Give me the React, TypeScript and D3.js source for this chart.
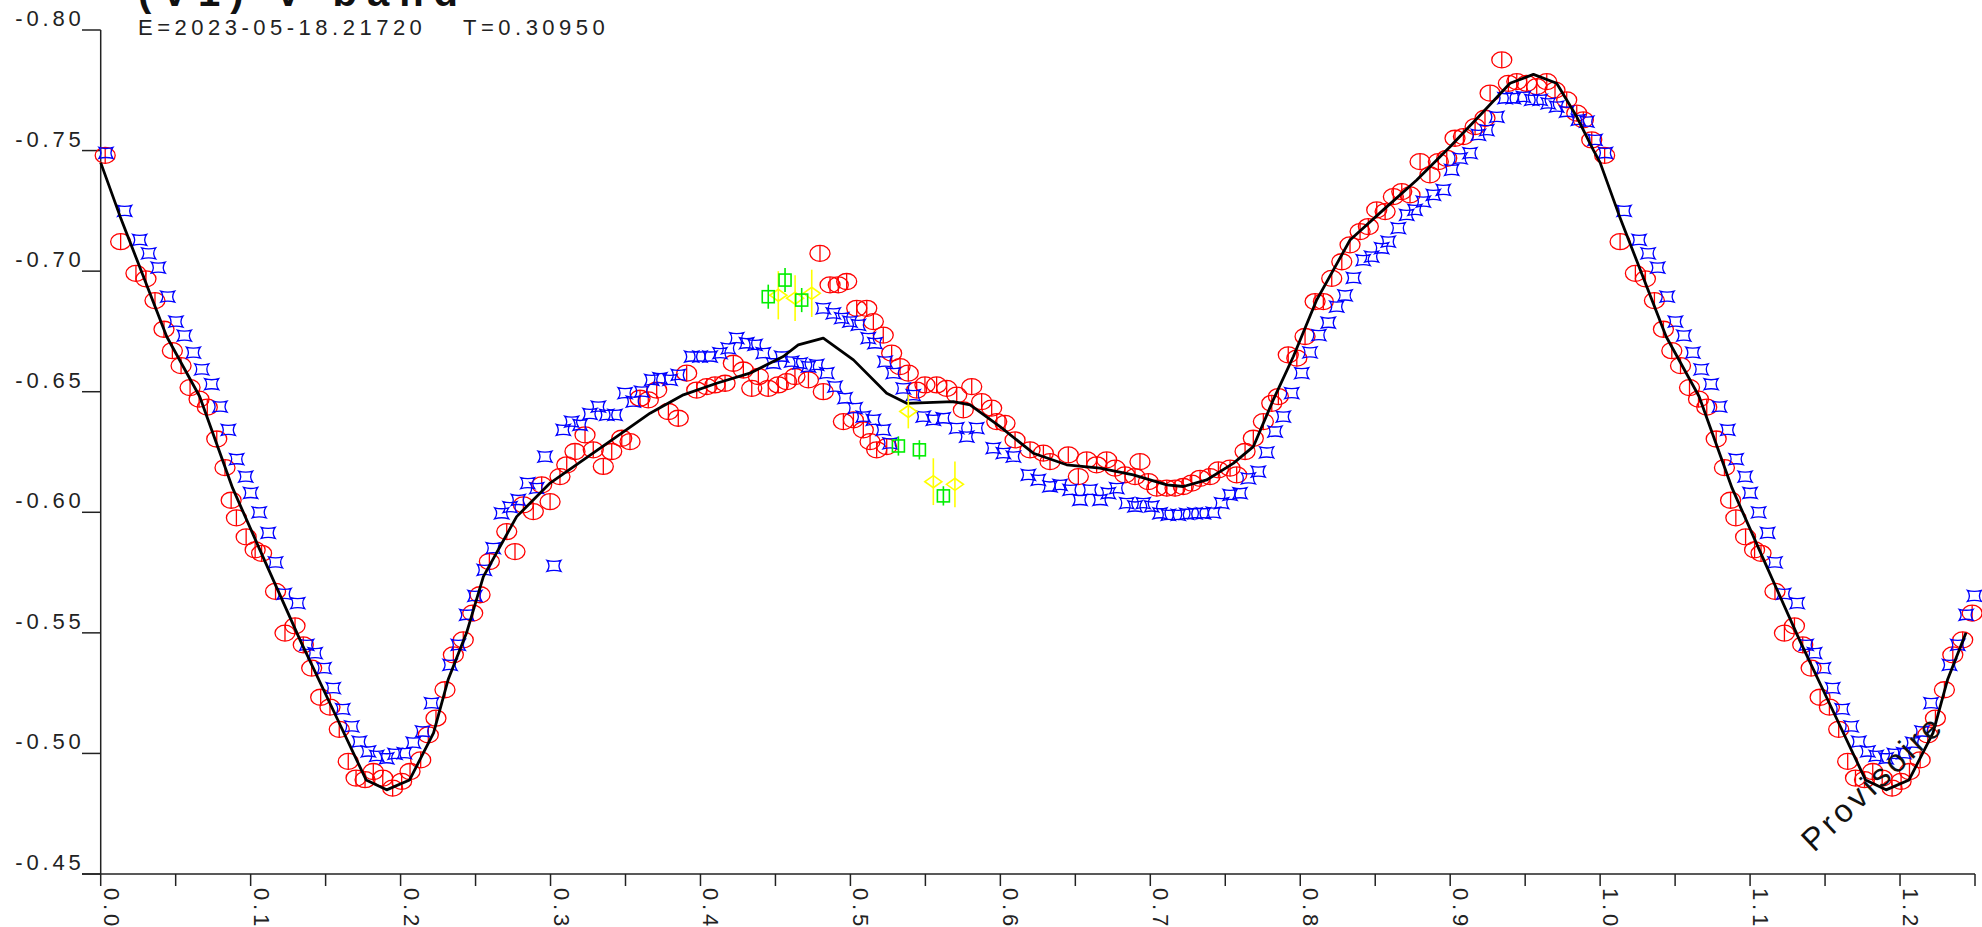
import React from 'react';
import * as d3 from 'd3';

// phase-folded light curve, phase 0..1 (repeated to 1.25 when drawn)
const redSeries: [number, number][] = [
  [0.003, -0.748], [0.0133, -0.7122], [0.0235, -0.6991], [0.0302, -0.6968], [0.0362, -0.6878],
  [0.0422, -0.6759], [0.0478, -0.667], [0.0536, -0.6608], [0.0596, -0.6517], [0.0656, -0.6469],
  [0.0711, -0.6436], [0.0774, -0.6304], [0.0829, -0.6185], [0.087, -0.605], [0.0905, -0.5977],
  [0.097, -0.5898], [0.103, -0.5844], [0.1073, -0.583], [0.1166, -0.5672], [0.1229, -0.5499],
  [0.1296, -0.5529], [0.1351, -0.545], [0.1407, -0.5354], [0.1467, -0.5233], [0.1529, -0.5192],
  [0.1591, -0.51], [0.1651, -0.4967], [0.1703, -0.4898], [0.1763, -0.4891], [0.1818, -0.4925],
  [0.1881, -0.4898], [0.1947, -0.4856], [0.2007, -0.4884], [0.2063, -0.4925], [0.2134, -0.4973],
  [0.2185, -0.5077], [0.2236, -0.5146], [0.2296, -0.5264], [0.2352, -0.5409], [0.2418, -0.5471],
  [0.2481, -0.5582], [0.253, -0.5658], [0.2592, -0.5796], [0.2708, -0.592], [0.2763, -0.5837],
  [0.2819, -0.6031], [0.2885, -0.6003], [0.2941, -0.6114], [0.2997, -0.6044], [0.3063, -0.6148],
  [0.3108, -0.6197], [0.3163, -0.6252], [0.323, -0.6321], [0.3285, -0.6259], [0.3352, -0.619],
  [0.3408, -0.6252], [0.3475, -0.6307], [0.353, -0.6293], [0.3597, -0.6473], [0.3652, -0.6466],
  [0.3708, -0.6507], [0.3786, -0.6418], [0.3852, -0.639], [0.3908, -0.6577], [0.3975, -0.6507],
  [0.4042, -0.6521], [0.4097, -0.6528], [0.4164, -0.6535], [0.4219, -0.6618], [0.4286, -0.659],
  [0.4342, -0.6514], [0.4386, -0.6563], [0.4452, -0.6514], [0.4519, -0.6528], [0.4575, -0.6542],
  [0.463, -0.6563], [0.472, -0.6549], [0.4797, -0.7074], [0.4819, -0.65], [0.4864, -0.6943],
  [0.4919, -0.6943], [0.4953, -0.6376], [0.4975, -0.6957], [0.502, -0.6383], [0.5042, -0.6846],
  [0.5086, -0.6342], [0.5109, -0.6846], [0.5131, -0.6293], [0.5153, -0.6791], [0.5175, -0.6259],
  [0.5219, -0.6735], [0.5242, -0.6272], [0.5275, -0.666], [0.5331, -0.6604], [0.5386, -0.6577],
  [0.5442, -0.6507], [0.5497, -0.6528], [0.5575, -0.6528], [0.5642, -0.6514], [0.5709, -0.6486],
  [0.5753, -0.6425], [0.5809, -0.6521], [0.5875, -0.6459], [0.5942, -0.6432], [0.5976, -0.6376],
  [0.6031, -0.6369], [0.6098, -0.63], [0.6198, -0.6259], [0.6287, -0.6245], [0.6331, -0.621],
  [0.6453, -0.6238], [0.652, -0.6148], [0.6576, -0.6217], [0.6642, -0.6197], [0.6709, -0.6217],
  [0.6765, -0.6183], [0.6831, -0.6155], [0.6898, -0.6148], [0.6931, -0.621], [0.6987, -0.6127],
  [0.7043, -0.61], [0.711, -0.61], [0.7165, -0.61], [0.722, -0.6107], [0.7276, -0.6121],
  [0.7332, -0.6141], [0.7398, -0.6148], [0.7454, -0.6176], [0.7532, -0.6183], [0.7576, -0.6155],
  [0.7632, -0.6252], [0.7687, -0.6307], [0.7754, -0.6376], [0.781, -0.6452], [0.7854, -0.648],
  [0.792, -0.6653], [0.7977, -0.6639], [0.8032, -0.6729], [0.8099, -0.6874], [0.8154, -0.6874],
  [0.821, -0.697], [0.8277, -0.7039], [0.8332, -0.7109], [0.8399, -0.7164], [0.8454, -0.7185],
  [0.851, -0.7254], [0.8566, -0.7247], [0.8621, -0.7309], [0.8677, -0.733], [0.8732, -0.7316],
  [0.8799, -0.7454], [0.8865, -0.7399], [0.8921, -0.7454], [0.8977, -0.7468], [0.9032, -0.7551],
  [0.9088, -0.7558], [0.9166, -0.7599], [0.9232, -0.7634], [0.9266, -0.7738], [0.9344, -0.7876],
  [0.9388, -0.7779], [0.9444, -0.7786], [0.951, -0.7779], [0.9577, -0.7765], [0.9644, -0.7786],
  [0.9699, -0.7751], [0.9777, -0.771], [0.9844, -0.7655], [0.9888, -0.7627], [0.9944, -0.7544],
];

const blueSeries: [number, number][] = [
  [0.0035, -0.749], [0.016, -0.725], [0.026, -0.713], [0.032, -0.7074], [0.0384, -0.7015],
  [0.0447, -0.6894], [0.0502, -0.6791], [0.0558, -0.6733], [0.0618, -0.6662], [0.0674, -0.6593],
  [0.074, -0.6531], [0.0796, -0.6438], [0.0851, -0.6342], [0.0907, -0.622], [0.0967, -0.6148],
  [0.1, -0.608], [0.1057, -0.6], [0.1117, -0.5915], [0.1166, -0.5792], [0.1224, -0.5662],
  [0.1314, -0.5623], [0.1374, -0.545], [0.143, -0.5416], [0.1489, -0.5354], [0.1551, -0.5271],
  [0.1614, -0.5184], [0.1674, -0.5112], [0.1725, -0.5049], [0.1785, -0.5008], [0.1841, -0.499],
  [0.1907, -0.498], [0.1963, -0.4998], [0.2025, -0.5001], [0.2085, -0.5045], [0.2147, -0.5091],
  [0.2207, -0.5209], [0.233, -0.5367], [0.2385, -0.545], [0.2441, -0.5575], [0.2496, -0.5653],
  [0.2558, -0.5761], [0.2618, -0.5851], [0.2674, -0.5996], [0.273, -0.6021], [0.2785, -0.6051],
  [0.2848, -0.6121], [0.2908, -0.61], [0.2963, -0.6231], [0.3023, -0.5778], [0.3085, -0.6342],
  [0.3141, -0.6376], [0.3197, -0.6362], [0.3263, -0.6408], [0.3319, -0.6438], [0.3375, -0.6404],
  [0.343, -0.6404], [0.3497, -0.6494], [0.3552, -0.6459], [0.3608, -0.65], [0.3675, -0.6549],
  [0.373, -0.6556], [0.3797, -0.6549], [0.3852, -0.657], [0.3941, -0.6646], [0.3997, -0.6646],
  [0.4064, -0.6646], [0.413, -0.666], [0.4186, -0.668], [0.4242, -0.6722], [0.4308, -0.6701],
  [0.4364, -0.6694], [0.4419, -0.666], [0.4486, -0.6618], [0.4542, -0.6646], [0.4608, -0.6625],
  [0.4664, -0.6618], [0.472, -0.6604], [0.4775, -0.6611], [0.4842, -0.6577], [0.4897, -0.6521],
  [0.4964, -0.6473], [0.5031, -0.6432], [0.5086, -0.6397], [0.5153, -0.6383], [0.5219, -0.6342],
  [0.5264, -0.6286], [0.4819, -0.6846], [0.4886, -0.6825], [0.4942, -0.6805], [0.4997, -0.6791],
  [0.5053, -0.6777], [0.5119, -0.6722], [0.5164, -0.6701], [0.5231, -0.6625], [0.5286, -0.6577],
  [0.5353, -0.6514], [0.5419, -0.6486], [0.5486, -0.6397], [0.5553, -0.6383], [0.5619, -0.639],
  [0.5709, -0.6349], [0.5776, -0.6314], [0.5842, -0.6349], [0.5953, -0.6266], [0.602, -0.6245],
  [0.6087, -0.6231], [0.6187, -0.6155], [0.6253, -0.6134], [0.6331, -0.6107], [0.6398, -0.6114],
  [0.6465, -0.6093], [0.6531, -0.6051], [0.6598, -0.6093], [0.6665, -0.6051], [0.672, -0.6079],
  [0.6776, -0.61], [0.6843, -0.6038], [0.6898, -0.6024], [0.6953, -0.6038], [0.7009, -0.6024],
  [0.7065, -0.5996], [0.712, -0.5989], [0.7187, -0.5989], [0.7243, -0.5993], [0.7298, -0.5996],
  [0.7354, -0.5996], [0.742, -0.5999], [0.7476, -0.6038], [0.7532, -0.6072], [0.7598, -0.6079],
  [0.7654, -0.6141], [0.772, -0.6169], [0.7776, -0.6248], [0.7832, -0.6335], [0.7887, -0.6397],
  [0.7943, -0.6494], [0.801, -0.6577], [0.8065, -0.6663], [0.8124, -0.6735], [0.8187, -0.6786],
  [0.8243, -0.6853], [0.8299, -0.6899], [0.8355, -0.6972], [0.842, -0.7046], [0.8476, -0.706],
  [0.8543, -0.7095], [0.8587, -0.7122], [0.8654, -0.7178], [0.871, -0.7233], [0.8765, -0.7254],
  [0.8821, -0.7288], [0.8888, -0.7316], [0.8954, -0.7337], [0.901, -0.742], [0.9066, -0.7468],
  [0.9132, -0.7489], [0.9188, -0.7565], [0.9244, -0.7585], [0.9311, -0.764], [0.9366, -0.7717],
  [0.9421, -0.7717], [0.9488, -0.7723], [0.9544, -0.771], [0.96, -0.771], [0.9654, -0.7696],
  [0.971, -0.7682], [0.9777, -0.7661], [0.9855, -0.7627], [0.9911, -0.762], [0.9966, -0.7544],
];

// fitted curve
const modelCurve: [number, number][] = [
  [0, -0.745], [0.013, -0.7226], [0.044, -0.6729], [0.066, -0.648], [0.088, -0.61],
  [0.11, -0.579], [0.133, -0.547], [0.155, -0.518], [0.177, -0.489], [0.1907, -0.4849],
  [0.206, -0.489], [0.222, -0.5085], [0.2318, -0.5308], [0.244, -0.55], [0.2552, -0.5733],
  [0.2774, -0.5982], [0.2997, -0.6121], [0.3219, -0.6217], [0.3441, -0.6314], [0.3664, -0.6411],
  [0.3886, -0.6487], [0.4108, -0.6535], [0.433, -0.6577], [0.4552, -0.6646], [0.4652, -0.6694],
  [0.4819, -0.6722], [0.502, -0.6632], [0.5242, -0.6494], [0.5375, -0.6452], [0.5686, -0.6459],
  [0.5798, -0.6445], [0.5998, -0.6355], [0.622, -0.6245], [0.6442, -0.6197], [0.6664, -0.6183],
  [0.6887, -0.6155], [0.711, -0.6114], [0.722, -0.6107], [0.7376, -0.6134], [0.7553, -0.6203],
  [0.7687, -0.6272], [0.782, -0.6466], [0.7954, -0.6646], [0.811, -0.6881], [0.8332, -0.7129],
  [0.8554, -0.7254], [0.8777, -0.7378], [0.8999, -0.7516], [0.9221, -0.7661], [0.9399, -0.7779],
  [0.9555, -0.7816], [0.971, -0.7779], [0.9844, -0.764], [0.9955, -0.7502],
];

// [phase, mag, error]
const greenSeries: [number, number, number][] = [
  [0.4452, -0.6894, 0.005], [0.4564, -0.6963, 0.005], [0.4675, -0.688, 0.005],
  [0.532, -0.6275, 0.004], [0.546, -0.6259, 0.004], [0.562, -0.6068, 0.004],
];
const yellowSeries: [number, number, number][] = [
  [0.4519, -0.69, 0.01], [0.4631, -0.6888, 0.0095], [0.4742, -0.6908, 0.0098],
  [0.5386, -0.6418, 0.007], [0.5553, -0.6127, 0.0097], [0.5697, -0.6116, 0.0095],
];

const yTicks = [-0.8, -0.75, -0.7, -0.65, -0.6, -0.55, -0.5, -0.45];
const xMajor = [0, 0.1, 0.2, 0.3, 0.4, 0.5, 0.6, 0.7, 0.8, 0.9, 1.0, 1.1, 1.2];
const xMinor = d3.range(0, 26).map((i) => i * 0.05);

const titleText = '(V1) V-band';
const epochText = 'E=2023-05-18.21720';
const periodText = 'T=0.30950';
const stampText = 'Provisoire';

const W = 1982;
const H = 927;
const PMAX = 1.25;

// repeat phase 0..0.25 after 1.0
function fold<T extends number[]>(arr: T[]): T[] {
  const out: T[] = [];
  arr.forEach((d) => {
    out.push(d);
    if (d[0] + 1 <= PMAX) out.push([d[0] + 1, ...d.slice(1)] as T);
  });
  return out;
}

const labelFont = '"Liberation Sans", Arial, sans-serif';

export default function App() {
  const x = d3.scaleLinear().domain([0, PMAX]).range([100.7, 1975]);
  const y = d3.scaleLinear().domain([-0.8, -0.45]).range([30, 874]);

  const curve = [...modelCurve, ...modelCurve.map(([p, v]) => [p + 1, v] as [number, number])]
    .filter((d) => d[0] <= PMAX + 0.001);
  const line = d3.line<[number, number]>().x((d) => x(d[0])).y((d) => y(d[1]));

  const reds = fold(redSeries);
  const blues = fold(blueSeries);

  const bluePath = 'M-7,-5.5 Q0,-3.5 7,-5.5 Q3,0 7,5.5 Q0,3.5 -7,5.5 Q-3,0 -7,-5.5 Z';

  return (
    <svg
      width={W}
      height={H}
      style={{ position: 'absolute', left: 0, top: 0, background: '#fff' }}
    >
      {/* title, cut by the top edge */}
      <text x={138} y={6} fontFamily={labelFont} fontSize={40} fontWeight="bold" letterSpacing={10} fill="#111">
        {titleText}
      </text>
      <text x={138} y={35} fontFamily={labelFont} fontSize={22} letterSpacing={4.5} fill="#222">
        {epochText}
      </text>
      <text x={463} y={35} fontFamily={labelFont} fontSize={22} letterSpacing={4.5} fill="#222">
        {periodText}
      </text>

      {/* axes */}
      <g stroke="#222" strokeWidth={1.5} fill="none">
        <line x1={x(0)} y1={y(-0.8)} x2={x(0)} y2={y(-0.45)} />
        <line x1={82} y1={y(-0.45)} x2={x(PMAX)} y2={y(-0.45)} />
        {yTicks.map((t) => (
          <line key={t} x1={82} x2={x(0)} y1={y(t)} y2={y(t)} />
        ))}
        {xMinor.map((t) => (
          <line key={t} x1={x(t)} x2={x(t)} y1={y(-0.45)} y2={y(-0.45) + 12} />
        ))}
      </g>
      <g fontFamily={labelFont} fontSize={22} letterSpacing={3.8} fill="#222">
        {yTicks.map((t) => (
          <text key={t} x={84.5} y={y(t) - 4} textAnchor="end">
            {t.toFixed(2)}
          </text>
        ))}
        {xMajor.map((t) => (
          <text key={t} transform={`translate(${x(t) + 3},${y(-0.45) + 14}) rotate(90)`}>
            {t.toFixed(1)}
          </text>
        ))}
      </g>

      {/* red observations */}
      <g stroke="#ff0000" strokeWidth={1.3} fill="none">
        {reds.map((d, i) => (
          <g key={i} transform={`translate(${x(d[0])},${y(d[1])})`}>
            <ellipse rx={10} ry={8} />
            <line x1={0} x2={0} y1={-8} y2={8} />
          </g>
        ))}
      </g>

      {/* blue observations */}
      <g stroke="#0000ff" strokeWidth={1.3} fill="none">
        {blues.map((d, i) => (
          <path key={i} d={bluePath} transform={`translate(${x(d[0])},${y(d[1])})`} />
        ))}
      </g>

      {/* model curve */}
      <path d={line(curve) || ''} fill="none" stroke="#000" strokeWidth={2.8} strokeLinejoin="round" />

      {/* yellow with error bars */}
      <g stroke="#ffff00" strokeWidth={1.6} fill="none">
        {yellowSeries.map((d, i) => (
          <g key={i} transform={`translate(${x(d[0])},${y(d[1])})`}>
            <path d="M-8.5,0 L0,-6 L8.5,0 L0,6 Z" />
            <line x1={0} x2={0} y1={y(d[1] - d[2]) - y(d[1])} y2={y(d[1] + d[2]) - y(d[1])} />
          </g>
        ))}
      </g>

      {/* green with error bars */}
      <g stroke="#00ee00" strokeWidth={1.6} fill="none">
        {greenSeries.map((d, i) => (
          <g key={i} transform={`translate(${x(d[0])},${y(d[1])})`}>
            <rect x={-6} y={-6} width={12} height={12} />
            <line x1={0} x2={0} y1={y(d[1] - d[2]) - y(d[1])} y2={y(d[1] + d[2]) - y(d[1])} />
          </g>
        ))}
      </g>

      <text
        transform="translate(1814,853) rotate(-43.5)"
        fontFamily={labelFont}
        fontSize={32}
        letterSpacing={4}
        fill="#111"
      >
        {stampText}
      </text>
    </svg>
  );
}
